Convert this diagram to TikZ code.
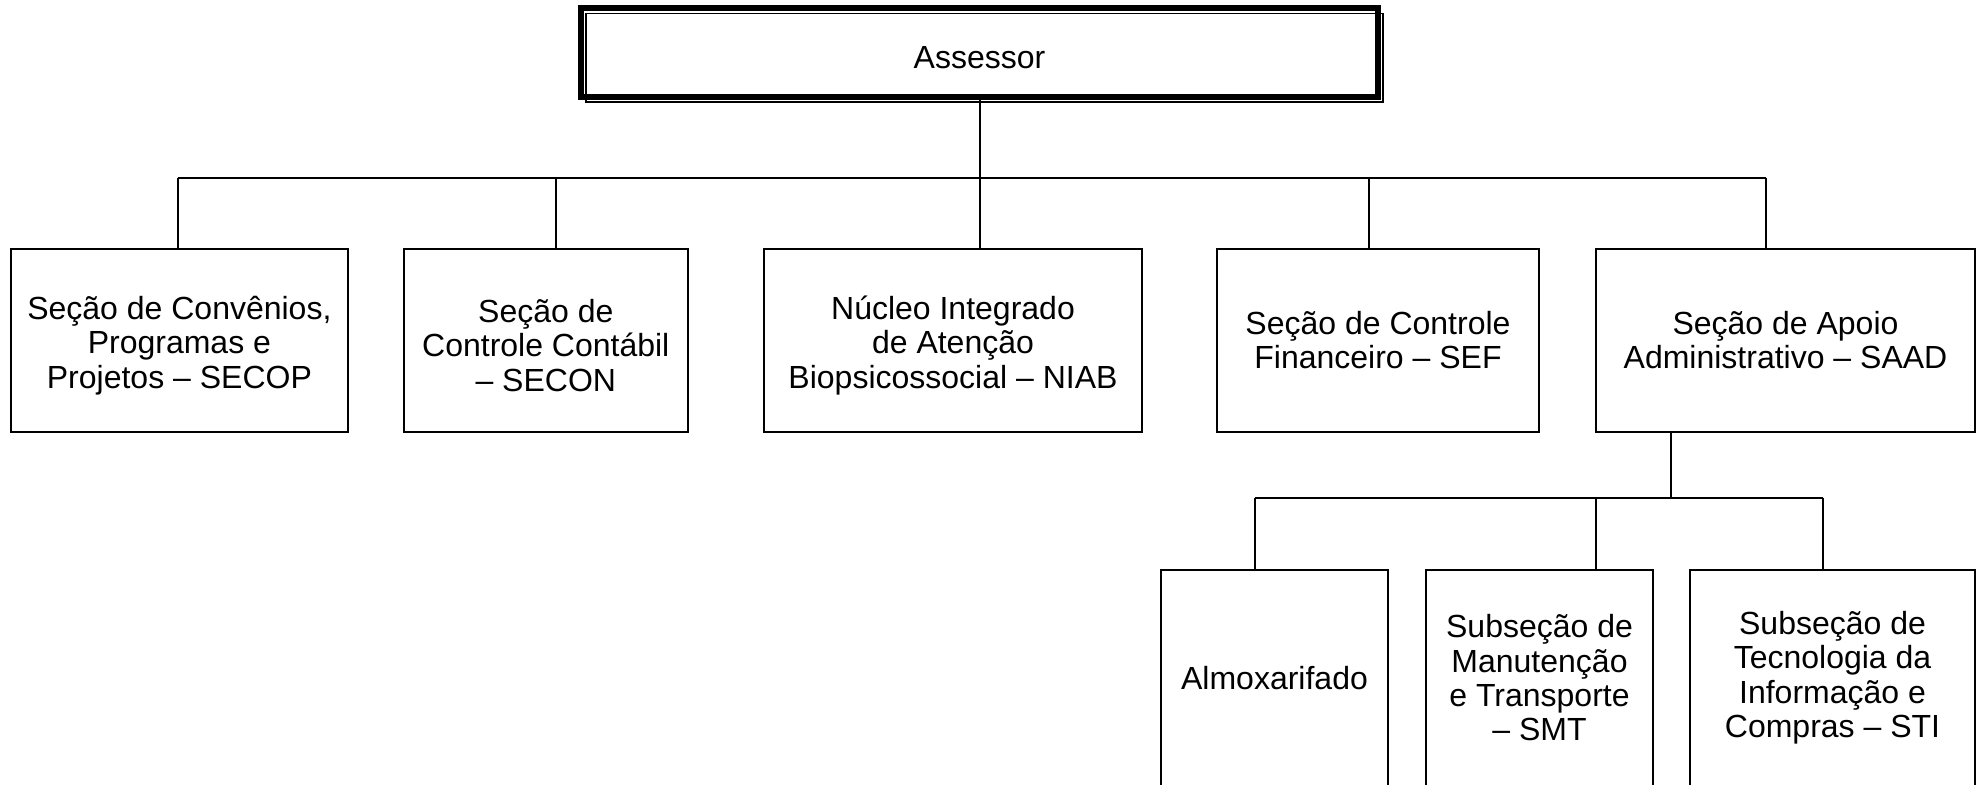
\documentclass[tikz,border=0pt]{standalone}
\usepackage{fontspec}
\setmainfont{Liberation Sans}
\newcommand{\firstline}{\rule{0pt}{16.7pt}}

\begin{document}
\begin{tikzpicture}[x=0.5pt,y=-0.5pt,line width=0.9pt,
  unit node/.style={rectangle,draw,inner sep=0pt,outer sep=0pt,align=center,font=\fontsize{16}{17.2}\selectfont},
  top node/.style={unit node,minimum height=91.3pt},
  sub node/.style={unit node,minimum height=108.2pt}]

  \useasboundingbox (0,0) rectangle (1984,784);
  \clip (0,0) rectangle (1984,784);

  \node[unit node,line width=3pt,minimum width=398.25pt,minimum height=44.6pt] (assessor) at (979.5,52.6) {\rule{0pt}{15.9pt}Assessor};
  \draw ([shift={(4.7,5.5)}]assessor.north west) rectangle ([shift={(5.5,5.1)}]assessor.south east);

  \node[top node,minimum width=168.4pt] (secop) at (179.4,340.3) {\firstline Seção de Convênios,\\Programas e\\Projetos -- SECOP};
  \node[top node,minimum width=141.8pt] (secon) at (545.8,340.3) {\firstline Seção de\\Controle Contábil\\-- SECON};
  \node[top node,minimum width=189pt] (niab) at (953,340.3) {\firstline Núcleo Integrado\\de Atenção\\Biopsicossocial -- NIAB};
  \node[top node,minimum width=161pt] (sef) at (1378,340.3) {Seção de Controle\\Financeiro -- SEF};
  \node[top node,minimum width=189.5pt] (saad) at (1785.5,340.3) {Seção de Apoio\\Administrativo -- SAAD};

  \node[sub node,minimum width=113.5pt] (almox) at (1274.5,677.8) {Almoxarifado};
  \node[sub node,minimum width=113.5pt] (smt) at (1539.5,677.8) {Subseção de\\Manutenção\\e Transporte\\-- SMT};
  \node[sub node,minimum width=142.5pt] (sti) at (1832.5,677.8) {Subseção de\\Tecnologia da\\Informação e\\Compras -- STI};

  \coordinate (bus) at (980,177.7);
  \coordinate (b1) at (177.7,177.7);
  \coordinate (b2) at (555.7,177.7);
  \coordinate (b3) at (980,177.7);
  \coordinate (b4) at (1369,177.7);
  \coordinate (b5) at (1766,177.7);

  \coordinate (subbus) at (1671,497.7);
  \coordinate (s1) at (1255,497.7);
  \coordinate (s2) at (1596,497.7);
  \coordinate (s3) at (1823,497.7);

  \path[draw]
    (assessor.south -| bus) edge (bus)
    (b1) edge (b5)
    (b1) edge (b1 |- secop.north)
    (b2) edge (b2 |- secon.north)
    (b3) edge (b3 |- niab.north)
    (b4) edge (b4 |- sef.north)
    (b5) edge (b5 |- saad.north)
    (saad.south -| subbus) edge (subbus)
    (s1) edge (s3)
    (s1) edge (s1 |- almox.north)
    (s2) edge (s2 |- smt.north)
    (s3) edge (s3 |- sti.north)
    ;

\end{tikzpicture}
\end{document}
